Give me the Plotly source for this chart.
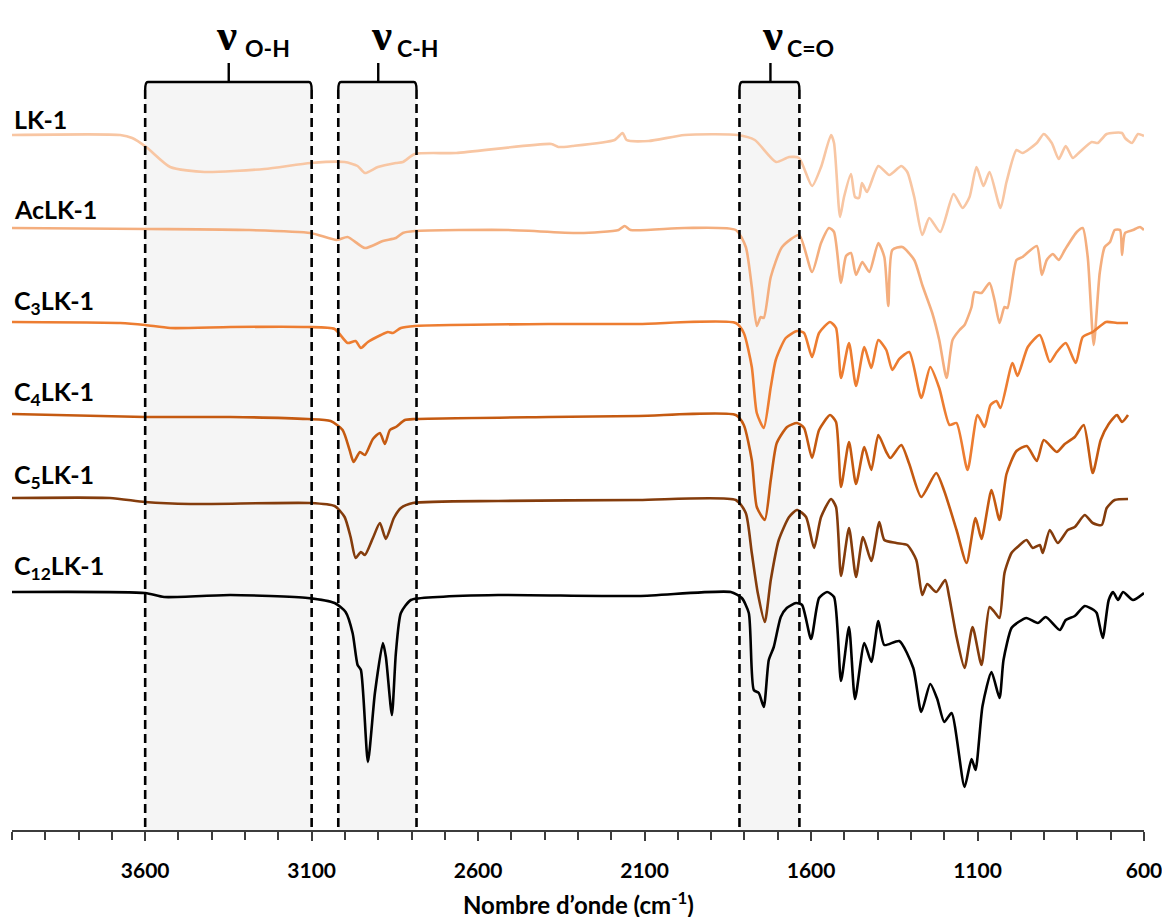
import plotly.graph_objects as go

# ---------------- data (wavenumber in cm-1, offset transmittance in a.u.) ----------------
lk1_wn = [4000,3675,3639,3597,3525,3422,3242,3103,3001,2962,2940,2901,2847,2826,2790,2666,2380,2359,2317,2190,2166,2154,2088,1980,1820,1769,1705,1666,1636,1597,1570,1540,1531,1513,1501,1480,1468,1456,1447,1432,1398,1365,1329,1311,1290,1266,1245,1212,1172,1145,1124,1103,1082,1064,1031,1013,983,965,922,901,877,856,835,814,793,757,739,712,666,657,636,618,600]
lk1_t = [695,695,692,683,663,658,661,667,668,664,657,663,667,668,676,677,686,683,684,690,697,690,689,695,695,690,668,673,672,644,663,695,687,613,633,656,633,632,647,638,664,655,664,658,633,595,612,598,636,622,633,663,644,658,622,648,680,677,687,696,687,671,684,672,678,688,687,696,697,692,687,696,694]

aclk1_wn = [4000,3594,3293,3103,3025,2992,2940,2886,2847,2826,2790,2510,2296,2178,2160,2142,1980,1826,1796,1778,1763,1751,1742,1721,1687,1636,1597,1570,1546,1531,1510,1495,1480,1465,1446,1425,1398,1380,1368,1356,1326,1290,1266,1236,1215,1193,1175,1154,1139,1118,1109,1088,1064,1049,1034,1019,1010,983,965,922,907,892,874,856,838,802,784,769,751,733,718,702,688,672,666,657,633,612,600]
aclk1_t = [602,601,600,597,590,593,582,589,592,597,599,600,597,600,604,600,602,600,583,543,504,513,512,553,583,595,558,587,602,598,547,574,577,555,568,558,587,573,524,580,583,570,545,517,490,452,490,500,505,523,538,537,547,530,507,523,522,570,573,584,555,570,576,570,580,598,602,573,485,557,583,588,600,600,575,597,600,603,600]

c3_wn = [4000,3675,3600,3525,3344,3112,3031,2992,2968,2952,2931,2892,2871,2856,2832,2790,2389,2118,1826,1802,1778,1763,1742,1721,1706,1676,1642,1621,1597,1576,1543,1525,1510,1486,1465,1440,1419,1398,1374,1356,1335,1305,1269,1242,1215,1184,1163,1130,1100,1079,1061,1043,1031,995,980,949,913,883,862,835,805,784,754,714,681,648]
c3_t = [508,507,505,502,503,503,501,487,489,482,488,495,498,497,502,504,506,506,507,497,463,417,402,443,470,492,499,497,473,497,508,502,452,487,444,483,462,490,480,460,471,478,432,463,442,405,407,360,415,403,425,429,422,467,454,483,495,468,478,487,467,493,498,508,507,507]

c4_wn = [4000,3600,3344,3112,3043,3007,2986,2974,2955,2940,2916,2895,2880,2865,2847,2820,2790,2389,2118,1826,1802,1778,1763,1739,1721,1703,1672,1642,1621,1597,1576,1543,1525,1510,1486,1465,1440,1419,1398,1374,1362,1329,1305,1269,1224,1200,1163,1133,1106,1088,1058,1034,1013,983,952,922,901,862,838,808,781,754,730,706,681,666,648]
c4_t = [416,413,413,411,409,400,380,368,378,375,391,397,386,400,403,410,411,413,414,415,405,370,323,310,350,387,403,407,402,372,400,415,408,343,388,346,383,360,395,378,372,385,366,333,357,339,300,267,312,291,340,310,356,379,384,369,390,378,386,393,405,357,390,406,415,408,415]

c5_wn = [4000,3706,3600,3465,3106,3031,3001,2983,2968,2952,2940,2916,2895,2877,2853,2832,2796,2540,2118,1826,1796,1778,1760,1739,1721,1697,1666,1642,1615,1591,1570,1540,1525,1510,1486,1465,1444,1419,1395,1380,1344,1311,1284,1266,1251,1224,1197,1185,1163,1139,1115,1088,1064,1049,1034,1019,998,980,953,934,913,904,883,859,829,808,778,754,727,712,688,648]
c5_t = [332,332,328,326,327,324,313,293,272,278,275,292,307,291,312,322,327,329,330,330,317,277,237,208,250,290,313,320,313,282,313,331,323,254,302,253,293,269,308,290,287,285,270,235,246,238,250,233,193,162,203,165,223,218,212,257,277,283,290,282,285,277,300,287,300,303,315,307,305,322,330,331]

c12_wn = [4000,3600,3543,3344,3112,3031,2998,2977,2962,2952,2931,2910,2886,2877,2859,2847,2832,2802,2721,2540,2118,1841,1808,1787,1772,1757,1742,1727,1712,1691,1673,1645,1627,1600,1576,1552,1531,1510,1486,1468,1440,1419,1398,1380,1335,1293,1269,1242,1221,1200,1178,1139,1118,1106,1085,1058,1034,1022,998,977,953,919,895,853,835,808,778,751,742,724,706,693,678,663,633,600]
c12_t = [238,237,233,235,232,227,218,197,165,160,68,137,187,173,115,177,217,230,233,235,234,238,232,217,140,137,123,170,183,213,222,227,225,191,232,238,233,149,203,131,187,168,209,185,189,162,118,146,131,108,117,43,71,60,124,158,132,170,202,208,212,207,213,200,210,214,224,220,217,192,230,238,230,238,230,237]

series_names = ["LK-1", "AcLK-1", "C<sub>3</sub>LK-1", "C<sub>4</sub>LK-1", "C<sub>5</sub>LK-1", "C<sub>12</sub>LK-1"]
series_colors = ["#F8C6A3", "#F4AE7E", "#ED7D31", "#C55A11", "#843C0C", "#000000"]
series_wn = [lk1_wn, aclk1_wn, c3_wn, c4_wn, c5_wn, c12_wn]
series_t = [lk1_t, aclk1_t, c3_t, c4_t, c5_t, c12_t]
label_y = [711, 621, 528, 437, 354, 263]

# band regions (cm-1)
band_names = ["O-H", "C-H", "C=O"]
band_lo = [3600, 3020, 1815]
band_hi = [3100, 2785, 1635]
band_tick = [3349, 2900, 1722]
band_nu_x = [3356, 2889, 1717]
band_sub_x = [3305, 2850, 1678]

x_ticks = [3600, 3100, 2600, 2100, 1600, 1100, 600]

LAB = "Lato"
PLOT_H = 822  # plot height in px (y data units = px)

fig = go.Figure()

for name, col, wn, t in zip(series_names, series_colors, series_wn, series_t):
    fig.add_trace(go.Scatter(
        x=wn, y=t, mode="lines", name=name,
        line=dict(color=col, width=2.6, shape="spline", smoothing=0.6),
        hoverinfo="skip", showlegend=False))

shapes = []
for lo, hi, tk in zip(band_lo, band_hi, band_tick):
    shapes.append(dict(type="rect", xref="x", yref="y", x0=lo, x1=hi, y0=0, y1=748,
                       fillcolor="#f5f5f5", line=dict(width=0), layer="below"))
    for xv in (lo, hi):
        shapes.append(dict(type="line", xref="x", yref="y", x0=xv, x1=xv, y0=3, y1=740,
                           line=dict(color="black", width=2.6, dash="9px,5px")))
    d = 8 if lo > hi else -8
    path = (f"M {lo},740 Q {lo},748 {lo - d},748 L {hi + d},748 Q {hi},748 {hi},740 "
            f"M {tk},748 L {tk},767")
    shapes.append(dict(type="path", xref="x", yref="y", path=path,
                       line=dict(color="black", width=2.4)))

annotations = []
for name, y in zip(series_names, label_y):
    annotations.append(dict(x=4000, y=y, xref="x", yref="y", text=name, showarrow=False,
                            xanchor="left", yanchor="middle", xshift=0,
                            font=dict(family=LAB, size=25, color="black", weight="bold")))

for bn, nx, sx in zip(band_names, band_nu_x, band_sub_x):
    annotations.append(dict(x=nx, y=PLOT_H, xref="x", yref="y", text="ν", showarrow=False,
                            xanchor="center", yanchor="top",
                            font=dict(family="Liberation Serif", size=45, color="black", weight="bold")))
    annotations.append(dict(x=sx, y=782, xref="x", yref="y", text=bn, showarrow=False,
                            xanchor="left", yanchor="middle",
                            font=dict(family=LAB, size=23, color="black", weight="bold")))

annotations.append(dict(x=0.5, y=-73 / PLOT_H, xref="paper", yref="paper",
                        text="Nombre d’onde (cm<sup>-1</sup>)", showarrow=False,
                        xanchor="center", yanchor="middle",
                        font=dict(family=LAB, size=24, color="black", weight="bold")))

fig.update_layout(
    width=1170, height=917,
    margin=dict(l=4, r=34, t=0, b=917 - PLOT_H),
    paper_bgcolor="white", plot_bgcolor="white",
    shapes=shapes, annotations=annotations, showlegend=False,
    xaxis=dict(range=[4000, 600], tickmode="array", tickvals=x_ticks,
               ticktext=[str(v) for v in x_ticks],
               showline=True, linecolor="#3c3c3c", linewidth=1.5,
               ticks="outside", ticklen=9, tickwidth=1.5, tickcolor="#3c3c3c",
               ticklabelstandoff=12,
               minor=dict(dtick=100, tick0=600, ticks="outside", ticklen=8,
                          tickwidth=1.5, tickcolor="#3c3c3c", showgrid=False),
               showgrid=False, zeroline=False,
               tickfont=dict(family=LAB, size=21, color="black", weight="bold")),
    yaxis=dict(range=[0, PLOT_H], visible=False, showgrid=False, zeroline=False),
)

fig.write_html("out.html")
